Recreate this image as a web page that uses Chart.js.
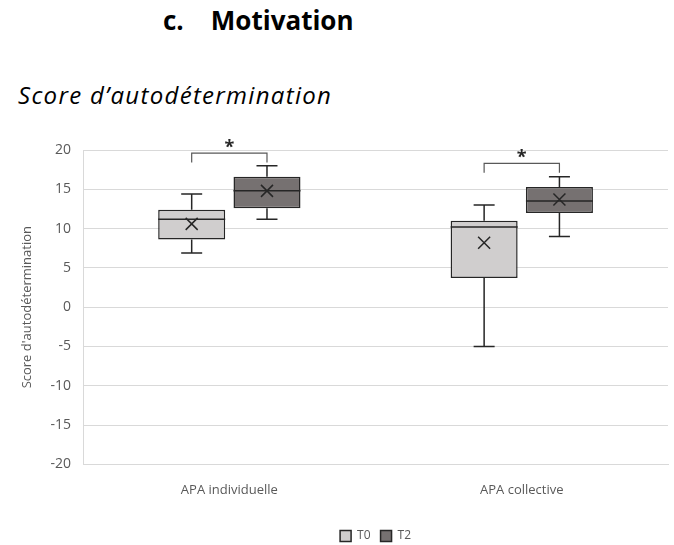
<!DOCTYPE html><html><head>
<meta charset="utf-8">
<title>Score d'autodétermination</title>
<style>
  body { margin:0; width:674px; height:545px; position:relative; background:#fff; overflow:hidden; }
  #t1 { position:absolute; left:163px; top:2px; font:bold 26px 'Open Sans'; color:#000; white-space:pre; }
  #t2 { position:absolute; left:18px; top:78px; font:italic 24px 'Open Sans'; letter-spacing:1.3px; color:#000; }
  #wrap { position:absolute; left:0; top:0; width:674px; height:545px; }
</style>
</head>
<body>
<div id="t1">c.    Motivation</div>
<div id="t2">Score d’autodétermination</div>
<div id="wrap"><canvas id="chart"></canvas></div>
<script src="https://cdn.jsdelivr.net/npm/chart.js"></script>
<script>
  // categories and series
  const groups = ["APA individuelle", "APA collective"];
  const seriesNames = ["T0", "T2"];
  const mins    = [[6.9, -5.0], [11.2, 9.0]];
  const q1s     = [[8.6, 3.7],  [12.6, 12.0]];
  const medians = [[11.2, 10.2],[14.8, 13.5]];
  const q3s     = [[12.4, 11.0],[16.6, 15.3]];
  const maxs    = [[14.4, 13.0],[18.0, 16.6]];
  const means   = [[10.6, 8.2], [14.8, 13.7]];
  // significance brackets (top level and leg end in score units)
  const sigTop  = [19.6, 18.3];
  const sigLeg  = [18.4, 17.1];
  const sigMark = ["*", "*"];
  const yTicks  = { min: -20, max: 20, step: 5 };

  const fills = ['#d0cece', '#767171'];
  const edge = '#262626';

  const boxPlot = {
    id: 'boxPlot',
    afterDatasetsDraw(chart) {
      const ctx = chart.ctx, y = chart.scales.y;
      ctx.save();
      ctx.strokeStyle = edge;
      ctx.lineWidth = 1.5;
      chart.data.datasets.forEach((ds, i) => {
        const meta = chart.getDatasetMeta(i);
        meta.data.forEach((bar, j) => {
          const cx = bar.x, w = bar.width, cap = 10.5;
          const yq1 = y.getPixelForValue(q1s[i][j]), yq3 = y.getPixelForValue(q3s[i][j]);
          const ymin = y.getPixelForValue(mins[i][j]), ymax = y.getPixelForValue(maxs[i][j]);
          const ymed = y.getPixelForValue(medians[i][j]), ymean = y.getPixelForValue(means[i][j]);
          ctx.beginPath();
          ctx.moveTo(cx, yq3); ctx.lineTo(cx, ymax);
          ctx.moveTo(cx - cap, ymax); ctx.lineTo(cx + cap, ymax);
          ctx.moveTo(cx, yq1); ctx.lineTo(cx, ymin);
          ctx.moveTo(cx - cap, ymin); ctx.lineTo(cx + cap, ymin);
          ctx.moveTo(cx - w / 2, ymed); ctx.lineTo(cx + w / 2, ymed);
          ctx.stroke();
          // mean marker
          const m = 6;
          ctx.beginPath();
          ctx.moveTo(cx - m, ymean - m); ctx.lineTo(cx + m, ymean + m);
          ctx.moveTo(cx + m, ymean - m); ctx.lineTo(cx - m, ymean + m);
          ctx.stroke();
        });
      });
      // significance brackets
      const m0 = chart.getDatasetMeta(0), m1 = chart.getDatasetMeta(1);
      ctx.strokeStyle = '#595959';
      ctx.lineWidth = 1.2;
      groups.forEach((g, j) => {
        const x0 = m0.data[j].x, x1 = m1.data[j].x;
        const yt = y.getPixelForValue(sigTop[j]), yl = y.getPixelForValue(sigLeg[j]);
        ctx.beginPath();
        ctx.moveTo(x0, yl); ctx.lineTo(x0, yt); ctx.lineTo(x1, yt); ctx.lineTo(x1, yl);
        ctx.stroke();
        ctx.fillStyle = '#262626';
        ctx.font = "bold 18px 'Open Sans'";
        ctx.textAlign = 'center';
        ctx.textBaseline = 'middle';
        ctx.fillText(sigMark[j], (x0 + x1) / 2, yt - 5);
      });
      ctx.restore();
    }
  };

  Chart.defaults.font.family = "'Open Sans', 'Liberation Sans', sans-serif";
  Chart.defaults.color = '#595959';

  new Chart(document.getElementById('chart'), {
    type: 'bar',
    data: {
      labels: groups,
      datasets: seriesNames.map((name, i) => ({
        label: name,
        data: groups.map((g, j) => [q1s[i][j], q3s[i][j]]),
        backgroundColor: fills[i],
        borderColor: edge,
        borderWidth: 1.5,
        borderSkipped: false,
        categoryPercentage: 0.515,
        barPercentage: 0.89
      }))
    },
    options: {
      responsive: true,
      maintainAspectRatio: false,
      animation: false,
      layout: { padding: { top: 150, left: 15, right: 6, bottom: -7 } },
      plugins: {
        tooltip: { enabled: false },
        legend: {
          position: 'bottom',
          fullSize: false,
          labels: { boxWidth: 11, boxHeight: 11, font: { size: 12 }, color: '#595959', padding: 10 }
        }
      },
      scales: {
        x: {
          grid: { display: false },
          border: { color: '#d9d9d9' },
          ticks: { font: { size: 13 }, color: '#595959', padding: 10 },
          afterFit(scale) { scale.height += 12; }
        },
        y: {
          min: yTicks.min, max: yTicks.max,
          ticks: { stepSize: yTicks.step, font: { size: 14 }, color: '#595959', padding: 12 },
          grid: { color: '#d9d9d9', drawTicks: false },
          border: { color: '#d9d9d9' },
          title: { display: true, text: "Score d'autodétermination", font: { size: 13 }, color: '#595959', padding: 4 }
        }
      }
    },
    plugins: [boxPlot]
  });
</script>
</body></html>
